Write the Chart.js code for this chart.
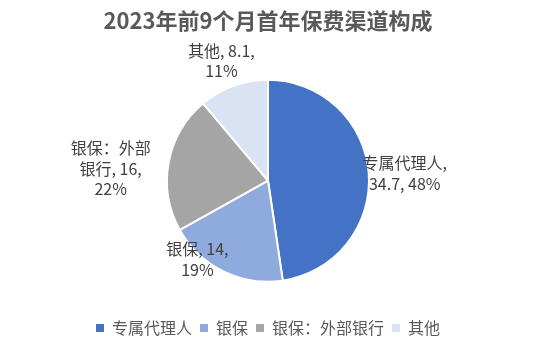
<!DOCTYPE html>
<html>
<head>
<meta charset="utf-8">
<script src="https://cdn.jsdelivr.net/npm/chart.js@4"></script>
<style>
  html, body { margin: 0; padding: 0; background: #fff; }
  #wrap { width: 539px; height: 358px; }
</style>
</head>
<body>
<div id="wrap"><canvas id="channelChart"></canvas></div>
<script>
const categories = ["专属代理人", "银保", "银保：外部银行", "其他"];
const premiums = [34.7, 14, 16, 8.1];
const sliceColors = ["#4472C4", "#8FAADC", "#A5A5A5", "#DAE3F3"];

// label nudges from the slice edge (px), like Excel's best-fit placement
const labelNudge = [[36, 0], [-26, -12], [-58, 6], [-12, -25]];

const FONT = '"Noto Sans CJK SC", "Noto Sans", sans-serif';

function wrapText(ctx, text, maxWidth) {
  // split into CJK chars and latin words so both can break
  const tokens = text.match(/[\u3000-\u9fff\uff00-\uffef]|[^\s\u3000-\u9fff\uff00-\uffef]+|\s+/g);
  const lines = [];
  let cur = "";
  tokens.forEach(t => {
    const test = cur + t;
    if (cur && ctx.measureText(test.trim()).width > maxWidth && !/^\s+$/.test(t)) {
      lines.push(cur.trim());
      cur = t.trimStart();
    } else {
      cur = test;
    }
  });
  if (cur.trim()) lines.push(cur.trim());
  return lines;
}

const sliceLabels = {
  id: "sliceLabels",
  afterDatasetsDraw(chart) {
    const ctx = chart.ctx;
    const meta = chart.getDatasetMeta(0);
    const values = chart.data.datasets[0].data;
    const total = values.reduce((a, b) => a + b, 0);
    ctx.save();
    ctx.font = "16px " + FONT;
    ctx.fillStyle = "#404040";
    ctx.textAlign = "center";
    ctx.textBaseline = "middle";
    meta.data.forEach((arc, i) => {
      const p = arc.getProps(["x", "y", "startAngle", "endAngle", "outerRadius"], true);
      const mid = (p.startAngle + p.endAngle) / 2;
      const ax = p.x + Math.cos(mid) * p.outerRadius + labelNudge[i][0];
      const ay = p.y + Math.sin(mid) * p.outerRadius + labelNudge[i][1];
      const pct = Math.round(values[i] / total * 100);
      const text = chart.data.labels[i] + ", " + values[i] + ", " + pct + "%";
      const lines = wrapText(ctx, text, 88);
      const lh = 20.5;
      const top = ay - (lines.length - 1) * lh / 2;
      lines.forEach((ln, k) => ctx.fillText(ln, ax, top + k * lh));
    });
    ctx.restore();
  }
};

const ctx = document.getElementById("channelChart").getContext("2d");
const channelChart = new Chart(ctx, {
  type: "pie",
  data: {
    labels: categories,
    datasets: [{
      data: premiums,
      backgroundColor: sliceColors,
      borderColor: "#fff",
      borderWidth: 2,
      radius: 101,
    }],
  },
  options: {
    responsive: true,
    maintainAspectRatio: false,
    animation: false,
    events: [],
    layout: { padding: { left: 0, right: 3, top: 0, bottom: 12 } },
    plugins: {
      title: {
        display: true,
        text: "2023年前9个月首年保费渠道构成",
        color: "#595959",
        font: { family: FONT, size: 22, weight: "bold" },
        padding: { top: 7, bottom: 16 },
      },
      legend: {
        position: "bottom",
        labels: {
          color: "#595959",
          font: { family: FONT, size: 16 },
          boxWidth: 8,
          boxHeight: 8,
          padding: 8,
          generateLabels(chart) {
            return Chart.overrides.pie.plugins.legend.labels.generateLabels(chart)
              .map(l => Object.assign(l, { lineWidth: 0 }));
          },
        },
      },
      tooltip: { enabled: false },
    },
  },
  plugins: [sliceLabels],
});
</script>
</body>
</html>
